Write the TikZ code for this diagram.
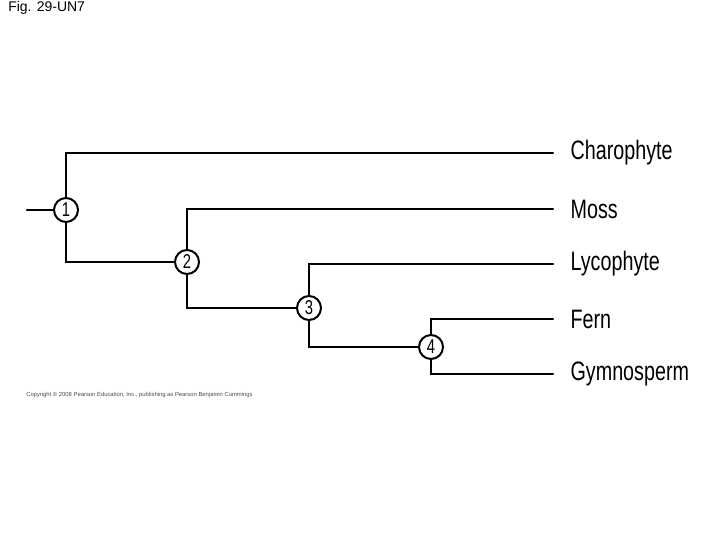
\documentclass[tikz,border=0pt]{standalone}
\usepackage{fontspec}
\setmainfont{Liberation Sans}
\newfontfamily\handfont[FakeStretch=0.74]{Liberation Sans}
\usepackage{xcolor}
\usepackage{tikz}
\usetikzlibrary{positioning}
\tikzstyle{branch} = [line width=1.6pt, black, line cap=round]

\begin{document}
\begin{tikzpicture}[
    x=0.75pt, y=-0.75pt,
    split/.style={circle, draw=black, line width=1.5pt, fill=white, minimum size=18pt, inner sep=0pt, font=\handfont\fontsize{15}{15}\selectfont},
    taxon/.style={anchor=west, inner sep=0pt, inner xsep=13pt, font=\handfont\fontsize{20}{20}\selectfont}
]
\useasboundingbox (0,0) rectangle (720,540);

% Titles
\node (fig) [anchor=west, inner sep=0pt, font=\fontsize{10.5}{11}\selectfont] at (8,8) {Fig. 29-UN7};
\node (copy) [anchor=west, inner sep=0pt, text=black!70, font=\fontsize{4.4}{5}\selectfont] at (26,395) {Copyright \textcopyright{} 2008 Pearson Education, Inc., publishing as Pearson Benjamin Cummings};

% Nodes
\coordinate (root) at (27,210);
\node (n1) [split] at (66,210) {1};
\node (n2) [split] at (187,262) {2};
\node (n3) [split] at (309,308) {3};
\node (n4) [split] at (431,347) {4};

\node (charo) [taxon] at (553,153) {Charophyte};
\node (moss) [taxon] at (553,209) {Moss};
\node (lyco) [taxon] at (553,264) {Lycophyte};
\node (fern) [taxon] at (553,319) {Fern};
\node (gymno) [taxon] at (553,374) {Gymnosperm};

% Edges
\draw [branch] (root) -- (n1);
\draw [branch] (n1) |- (charo.west);
\draw [branch] (n1) |- (n2);
\draw [branch] (n2) |- (moss.west);
\draw [branch] (n2) |- (n3);
\draw [branch] (n3) |- (lyco.west);
\draw [branch] (n3) |- (n4);
\draw [branch] (n4) |- (fern.west);
\draw [branch] (n4) |- (gymno.west);

\end{tikzpicture}
\end{document}
